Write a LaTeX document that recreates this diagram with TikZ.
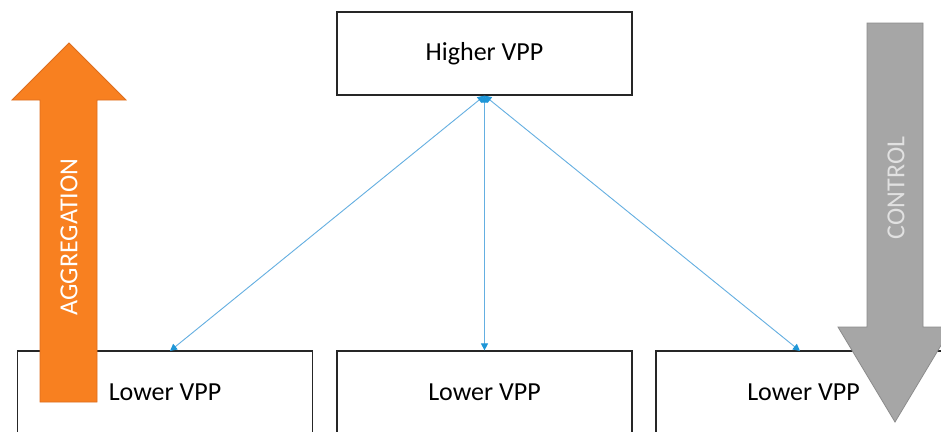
\documentclass[tikz,border=0pt]{standalone}
\usepackage{fontspec}
\setmainfont{Carlito}
\usetikzlibrary{arrows.meta}
\definecolor{aggorange}{RGB}{248,128,32}
\definecolor{aggedge}{RGB}{222,110,30}
\definecolor{ctrlgray}{RGB}{166,166,166}
\definecolor{ctrledge}{RGB}{140,140,140}
\definecolor{ctrltext}{RGB}{225,225,225}
\definecolor{linkline}{RGB}{100,175,225}
\definecolor{linkhead}{RGB}{30,150,215}
\tikzset{
  vppbox/.style={draw=black!85, line width=1.2pt, fill=white, minimum width=295pt, minimum height=83pt, inner sep=0pt, font=\fontsize{26}{31}\selectfont},
  link/.style={draw=linkline, line width=0.9pt, {Triangle[length=7pt,width=7pt,fill=linkhead,color=linkhead]}-{Triangle[length=7pt,width=7pt,fill=linkhead,color=linkhead]}, shorten <=0pt, shorten >=0pt},
  bigarrowtext/.style={rotate=90, font=\fontsize{26}{31}\selectfont, inner sep=0pt}
}
\begin{document}
\begin{tikzpicture}[x=1pt,y=-1pt]
\clip (0,0) rectangle (941,431);
\fill[white] (0,0) rectangle (941,431);
% boxes
\node[vppbox] (h) at (484.5,53.5) {Higher VPP};
\node[vppbox] (l1) at (165,392.5) {Lower VPP};
\node[vppbox] (l2) at (484.5,392.5) {Lower VPP};
\node[vppbox] (l3) at (803.5,392.5) {Lower VPP};
% connector ends
\coordinate (e1) at (170,351);
\coordinate (e3) at (800,351);
\draw[link] (h.south) -- (e1);
\draw[link] (h.south) -- (l2.north);
\draw[link] (h.south) -- (e3);
% aggregation arrow
\draw[fill=aggorange, draw=aggedge, line width=0.8pt, line join=miter]
  (40,402) -- (97,402) -- (97,100) -- (126,100) -- (69,43) -- (12,100) -- (40,100) -- cycle;
\node[bigarrowtext, text=white] (agg) at (69,237) {AGGREGATION};
% control arrow
\draw[fill=ctrlgray, draw=ctrledge, line width=0.8pt, line join=miter]
  (867,23) -- (923,23) -- (923,327) -- (952,327) -- (895,422) -- (838,327) -- (867,327) -- cycle;
\node[bigarrowtext, text=ctrltext] (ctrl) at (896,188) {CONTROL};
\end{tikzpicture}
\end{document}
